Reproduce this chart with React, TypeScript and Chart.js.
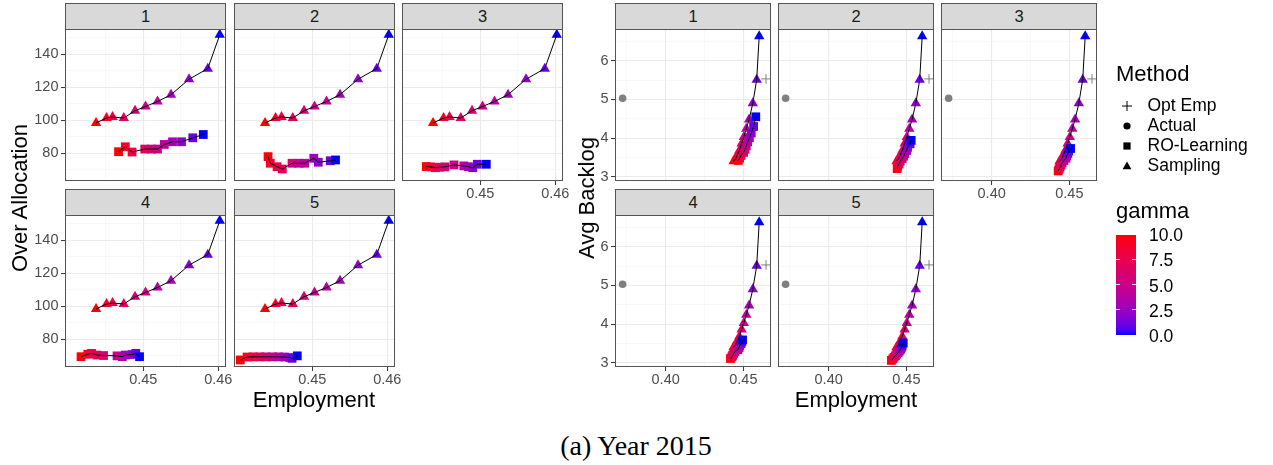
import React, { useEffect, useRef } from "react";
import { Chart, registerables } from "chart.js";

Chart.register(...registerables);

// ---------------- data ----------------
const FACETS = ["1", "2", "3", "4", "5"];
// gamma for each point, in order of increasing employment
const GAMMA = [10, 9, 8, 7, 6, 5, 4, 3, 2, 1, 0];

// Sampling (identical in every facet)
const SAMPLING_EMP = [0.4437, 0.4451, 0.4459, 0.4474, 0.4489, 0.4503, 0.4519, 0.4537, 0.4561, 0.4586, 0.4602];
const SAMPLING_OVER = [98.4, 101.4, 102.0, 101.4, 105.8, 108.4, 111.4, 115.5, 124.9, 131.3, 151.8];
const SAMPLING_BACKLOG = [3.4, 3.47, 3.55, 3.68, 3.86, 4.03, 4.24, 4.48, 4.9, 5.51, 6.63];

// RO-Learning, per facet
const RO_EMP_1 = [0.4467, 0.4476, 0.4485, 0.4502, 0.4511, 0.4519, 0.4528, 0.4539, 0.4551, 0.4566, 0.458];
const RO_OVER_1 = [81.0, 84.0, 80.8, 82.6, 82.6, 82.6, 85.4, 87.0, 87.0, 89.4, 91.4];
const RO_BACKLOG_1 = [3.42, 3.48, 3.55, 3.63, 3.71, 3.8, 3.9, 4.01, 4.13, 4.3, 4.55];

const RO_EMP_2 = [0.4441, 0.4444, 0.4453, 0.446, 0.4473, 0.4482, 0.449, 0.4502, 0.4508, 0.4524, 0.4531];
const RO_OVER_2 = [78.0, 74.0, 71.9, 70.5, 74.0, 74.0, 74.0, 77.0, 74.6, 75.5, 76.0];
const RO_BACKLOG_2 = [3.21, 3.27, 3.33, 3.4, 3.47, 3.53, 3.6, 3.68, 3.76, 3.85, 3.94];

const RO_EMP_3 = [0.4428, 0.4434, 0.444, 0.4446, 0.4453, 0.4465, 0.4478, 0.4484, 0.449, 0.4496, 0.4508];
const RO_OVER_3 = [72.0, 71.8, 71.3, 71.6, 71.8, 73.0, 72.4, 71.9, 71.3, 73.4, 73.4];
const RO_BACKLOG_3 = [3.15, 3.2, 3.25, 3.3, 3.36, 3.42, 3.48, 3.54, 3.6, 3.66, 3.73];

const RO_EMP_4 = [0.4417, 0.4426, 0.4431, 0.4438, 0.4447, 0.4465, 0.4472, 0.4476, 0.4485, 0.449, 0.4495];
const RO_OVER_4 = [69.5, 71.0, 71.5, 70.5, 70.2, 70.0, 69.5, 70.5, 70.8, 71.5, 69.5];
const RO_BACKLOG_4 = [3.11, 3.15, 3.19, 3.24, 3.29, 3.34, 3.39, 3.44, 3.49, 3.54, 3.59];

const RO_EMP_5 = [0.4404, 0.4413, 0.4421, 0.443, 0.4438, 0.4447, 0.4455, 0.4463, 0.447, 0.4473, 0.448];
const RO_OVER_5 = [67.5, 69.3, 69.4, 69.4, 69.4, 69.4, 69.4, 69.3, 69.0, 68.5, 70.0];
const RO_BACKLOG_5 = [3.06, 3.1, 3.14, 3.18, 3.22, 3.26, 3.3, 3.35, 3.4, 3.45, 3.51];

const RO_EMP = [RO_EMP_1, RO_EMP_2, RO_EMP_3, RO_EMP_4, RO_EMP_5];
const RO_OVER = [RO_OVER_1, RO_OVER_2, RO_OVER_3, RO_OVER_4, RO_OVER_5];
const RO_BACKLOG = [RO_BACKLOG_1, RO_BACKLOG_2, RO_BACKLOG_3, RO_BACKLOG_4, RO_BACKLOG_5];

// Actual and Opt Emp (Avg Backlog facets)
const ACTUAL_EMP = [0.3723];
const ACTUAL_BACKLOG = [5.03];
const OPT_EMP = [0.4646];
const OPT_BACKLOG = [5.53];

// axis ticks ("" = minor grid line)
const OVER_X_TICKS = [0.445, 0.45, 0.455, 0.46];
const OVER_X_LABELS = ["", "0.45", "", "0.46"];
const OVER_Y_TICKS = [70, 80, 90, 100, 110, 120, 130, 140, 150];
const OVER_Y_LABELS = ["", "80", "", "100", "", "120", "", "140", ""];
const BACK_X_TICKS = [0.375, 0.4, 0.425, 0.45];
const BACK_X_LABELS = ["", "0.40", "", "0.45"];
const BACK_Y_TICKS = [3, 3.5, 4, 4.5, 5, 5.5, 6, 6.5];
const BACK_Y_LABELS = ["3", "", "4", "", "5", "", "6", ""];

const OVER_X_RANGE = [0.43956, 0.46103];
const OVER_Y_RANGE = [63.25, 155.3];
const BACK_X_RANGE = [0.3674, 0.4678];
const BACK_Y_RANGE = [2.89, 6.82];

const METHODS = ["Opt Emp", "Actual", "RO-Learning", "Sampling"];
const GAMMA_BREAKS = [10, 7.5, 5, 2.5, 0];
const GAMMA_LABELS = ["10.0", "7.5", "5.0", "2.5", "0.0"];
const GAMMA_MIN = 0;
const GAMMA_MAX = 10;

// ---------------- styling / layout ----------------
const SANS = '"Liberation Sans", Arial, Helvetica, sans-serif';
const SERIF = '"Liberation Serif", "Times New Roman", serif';
const OVER_COLS = [65, 234, 402];
const OVER_W = 161;
const BACK_COLS = [615, 778, 941];
const BACK_W = 156;
const ROW_PLOT_TOP = [29, 215];
const ROW_STRIP_TOP = [3, 189];
const PLOT_H = 152;
const PAD_L = 50;
const PAD_R = 24;
const PAD_T = 8;
const PAD_B = 30;
const Y_AXIS_W = 44;
const X_AXIS_H = 26;
const BORDER = "#555555";
const GREY_PT = "#7f7f7f";

Chart.defaults.font.family = SANS;

// colour scale: blue (low) -> red (high), interpolated in CIE Lab like ggplot2
function srgbToLab(rgb: number[]): number[] {
  const lin = (c: number) => {
    c /= 255;
    return c <= 0.04045 ? c / 12.92 : Math.pow((c + 0.055) / 1.055, 2.4);
  };
  const [R, G, B] = rgb.map(lin);
  const X = (0.4124564 * R + 0.3575761 * G + 0.1804375 * B) / 0.95047;
  const Y = 0.2126729 * R + 0.7151522 * G + 0.072175 * B;
  const Z = (0.0193339 * R + 0.119192 * G + 0.9503041 * B) / 1.08883;
  const f = (t: number) => (t > 216 / 24389 ? Math.cbrt(t) : ((24389 / 27) * t + 16) / 116);
  const fx = f(X), fy = f(Y), fz = f(Z);
  return [116 * fy - 16, 500 * (fx - fy), 200 * (fy - fz)];
}
function labToHex(lab: number[]): string {
  const [L, a, b] = lab;
  const fy = (L + 16) / 116;
  const fx = fy + a / 500;
  const fz = fy - b / 200;
  const finv = (t: number) => (t * t * t > 216 / 24389 ? t * t * t : (116 * t - 16) / (24389 / 27));
  const X = finv(fx) * 0.95047, Y = finv(fy), Z = finv(fz) * 1.08883;
  const r = 3.2404542 * X - 1.5371385 * Y - 0.4985314 * Z;
  const g = -0.969266 * X + 1.8760108 * Y + 0.041556 * Z;
  const bl = 0.0556434 * X - 0.2040259 * Y + 1.0572252 * Z;
  const enc = (c: number) => {
    c = c <= 0.0031308 ? 12.92 * c : 1.055 * Math.pow(c, 1 / 2.4) - 0.055;
    const v = Math.round(Math.max(0, Math.min(1, c)) * 255);
    return v.toString(16).padStart(2, "0");
  };
  return "#" + enc(r) + enc(g) + enc(bl);
}
const LOW_LAB = srgbToLab([0, 0, 255]);
const HIGH_LAB = srgbToLab([255, 0, 0]);
function gammaColor(g: number): string {
  const t = (g - GAMMA_MIN) / (GAMMA_MAX - GAMMA_MIN);
  return labToHex(LOW_LAB.map((v, i) => v + (HIGH_LAB[i] - v) * t));
}
const GAMMA_COLORS = GAMMA.map(gammaColor);

// ---------------- chart helpers ----------------
const zip = (xs: number[], ys: number[]) => xs.map((x, i) => ({ x, y: ys[i] }));

function pointsDS(xs: number[], ys: number[], style: string, radius: number, colors: string[] | string, order: number) {
  return {
    data: zip(xs, ys),
    showLine: false,
    pointStyle: style,
    pointRadius: radius,
    pointHoverRadius: radius,
    pointBackgroundColor: colors,
    pointBorderColor: colors,
    pointBorderWidth: style === "cross" ? 1 : 0,
    order,
    clip: 0,
  };
}
function lineDS(xs: number[], ys: number[], order: number) {
  return {
    data: zip(xs, ys),
    showLine: true,
    borderColor: "#000000",
    borderWidth: 1,
    pointRadius: 0,
    pointHoverRadius: 0,
    tension: 0,
    fill: false,
    order,
    clip: 0,
  };
}

function axisCfg(axis: "x" | "y", ticks: number[], labels: string[], show: boolean, range: number[]) {
  return {
    type: "linear",
    position: axis === "x" ? "bottom" : "left",
    min: range[0],
    max: range[1],
    afterBuildTicks: (s: any) => {
      s.ticks = ticks.map((v) => ({ value: v }));
    },
    afterFit: (s: any) => {
      if (axis === "x") s.height = show ? X_AXIS_H : 0;
      else s.width = show ? Y_AXIS_W : 0;
      s.paddingLeft = 0;
      s.paddingRight = 0;
      s.paddingTop = 0;
      s.paddingBottom = 0;
    },
    ticks: {
      display: show,
      autoSkip: false,
      maxRotation: 0,
      minRotation: 0,
      padding: axis === "x" ? 0.5 : 2.5,
      color: "#4d4d4d",
      font: { family: SANS, size: 14.5 },
      callback: (_v: any, i: number) => labels[i],
    },
    grid: {
      color: (c: any) => (labels[c.index] ? "#ebebeb" : "#f3f3f3"),
      lineWidth: (c: any) => (labels[c.index] ? 1.1 : 0.6),
      drawTicks: show,
      tickLength: 4,
      tickWidth: 1,
      tickColor: (c: any) => (labels[c.index] ? "#333333" : "rgba(0,0,0,0)"),
    },
    border: { display: false },
  };
}

const borderPlugin = {
  id: "panelBorder",
  afterDraw(chart: any) {
    const { ctx, chartArea: a } = chart;
    ctx.save();
    ctx.strokeStyle = BORDER;
    ctx.lineWidth = 1;
    ctx.strokeRect(a.left + 0.5, a.top + 0.5, a.right - a.left - 1, a.bottom - a.top - 1);
    ctx.restore();
  },
};

type PanelProps = {
  left: number;
  top: number;
  width: number;
  height: number;
  datasets: any[];
  xTicks: number[];
  xLabels: string[];
  yTicks: number[];
  yLabels: string[];
  xRange: number[];
  yRange: number[];
  showX: boolean;
  showY: boolean;
};

function Panel(p: PanelProps) {
  const ref = useRef<HTMLCanvasElement>(null);
  const cw = p.width + PAD_L + PAD_R;
  const ch = p.height + PAD_T + PAD_B;
  useEffect(() => {
    const padLeft = PAD_L - (p.showY ? Y_AXIS_W : 0);
    const padBottom = PAD_B - (p.showX ? X_AXIS_H : 0);
    const chart = new Chart(ref.current as HTMLCanvasElement, {
      type: "scatter",
      data: { datasets: p.datasets },
      options: {
        responsive: false,
        animation: false,
        devicePixelRatio: 1,
        events: [],
        layout: { padding: { left: padLeft, right: PAD_R, top: PAD_T, bottom: padBottom } },
        plugins: { legend: { display: false }, tooltip: { enabled: false }, title: { display: false } },
        scales: {
          x: axisCfg("x", p.xTicks, p.xLabels, p.showX, p.xRange),
          y: axisCfg("y", p.yTicks, p.yLabels, p.showY, p.yRange),
        },
      } as any,
      plugins: [borderPlugin],
    });
    return () => chart.destroy();
  }, []);
  return (
    <canvas
      ref={ref}
      width={cw}
      height={ch}
      style={{ position: "absolute", left: p.left - PAD_L, top: p.top - PAD_T, width: cw, height: ch }}
    />
  );
}

function Strip({ left, top, width, height, label }: { left: number; top: number; width: number; height: number; label: string }) {
  return (
    <div
      style={{
        position: "absolute",
        left,
        top,
        width,
        height,
        boxSizing: "border-box",
        border: `1px solid ${BORDER}`,
        background: "#d9d9d9",
        color: "#1a1a1a",
        fontFamily: SANS,
        fontSize: 16.5,
        lineHeight: `${height - 2}px`,
        textAlign: "center",
      }}
    >
      {label}
    </div>
  );
}

function facetPos(i: number) {
  return { row: i < 3 ? 0 : 1, col: i % 3 };
}

function TextBox({ x, y, children, size, align = "center", rotate = false, family = SANS, color = "#000" }: any) {
  // (x, y) = centre of the text box (or left edge for align=left)
  const style: any = {
    position: "absolute",
    fontFamily: family,
    fontSize: size,
    lineHeight: 1,
    color,
    whiteSpace: "nowrap",
  };
  if (rotate) {
    style.left = x;
    style.top = y;
    style.transform = "translate(-50%, -50%) rotate(-90deg)";
  } else if (align === "left") {
    style.left = x;
    style.top = y - size / 2;
  } else {
    style.left = x;
    style.top = y - size / 2;
    style.transform = "translateX(-50%)";
  }
  return <div style={style}>{children}</div>;
}

function LegendSymbol({ kind, cx, cy }: { kind: string; cx: number; cy: number }) {
  const s = 14;
  let shape: any = null;
  const c = s / 2;
  if (kind === "Opt Emp") {
    shape = (
      <g stroke="#000" strokeWidth={1}>
        <line x1={c - 5} y1={c} x2={c + 5} y2={c} />
        <line x1={c} y1={c - 5} x2={c} y2={c + 5} />
      </g>
    );
  } else if (kind === "Actual") {
    shape = <circle cx={c} cy={c} r={3.6} fill="#000" />;
  } else if (kind === "RO-Learning") {
    shape = <rect x={c - 3.6} y={c - 3.6} width={7.2} height={7.2} fill="#000" />;
  } else {
    shape = <polygon points={`${c},${c - 4.6} ${c + 4.4},${c + 3.2} ${c - 4.4},${c + 3.2}`} fill="#000" />;
  }
  return (
    <svg width={s} height={s} style={{ position: "absolute", left: cx - c, top: cy - c }}>
      {shape}
    </svg>
  );
}

export default function App() {
  const panels: any[] = [];
  const strips: any[] = [];

  FACETS.forEach((f, i) => {
    const { row, col } = facetPos(i);
    const showX = row === 1 || col === 2;
    const showY = col === 0;
    const colors = GAMMA_COLORS;

    // Over Allocation grid
    panels.push(
      <Panel
        key={"o" + i}
        left={OVER_COLS[col]}
        top={ROW_PLOT_TOP[row]}
        width={OVER_W}
        height={PLOT_H}
        xTicks={OVER_X_TICKS}
        xLabels={OVER_X_LABELS}
        yTicks={OVER_Y_TICKS}
        yLabels={OVER_Y_LABELS}
        xRange={OVER_X_RANGE}
        yRange={OVER_Y_RANGE}
        showX={showX}
        showY={showY}
        datasets={[
          pointsDS(SAMPLING_EMP, SAMPLING_OVER, "triangle", 6, colors, 3),
          pointsDS(RO_EMP[i], RO_OVER[i], "rect", 6.2, colors, 2),
          lineDS(RO_EMP[i], RO_OVER[i], 1),
          lineDS(SAMPLING_EMP, SAMPLING_OVER, 0),
        ]}
      />
    );
    strips.push(
      <Strip
        key={"os" + i}
        left={OVER_COLS[col]}
        top={ROW_STRIP_TOP[row]}
        width={OVER_W}
        height={ROW_PLOT_TOP[row] - ROW_STRIP_TOP[row] + 1}
        label={f}
      />
    );

    // Avg Backlog grid
    panels.push(
      <Panel
        key={"b" + i}
        left={BACK_COLS[col]}
        top={ROW_PLOT_TOP[row]}
        width={BACK_W}
        height={PLOT_H}
        xTicks={BACK_X_TICKS}
        xLabels={BACK_X_LABELS}
        yTicks={BACK_Y_TICKS}
        yLabels={BACK_Y_LABELS}
        xRange={BACK_X_RANGE}
        yRange={BACK_Y_RANGE}
        showX={showX}
        showY={showY}
        datasets={[
          pointsDS(ACTUAL_EMP, ACTUAL_BACKLOG, "circle", 3.8, GREY_PT, 5),
          pointsDS(OPT_EMP, OPT_BACKLOG, "cross", 4.8, GREY_PT, 4),
          pointsDS(SAMPLING_EMP, SAMPLING_BACKLOG, "triangle", 6, colors, 3),
          pointsDS(RO_EMP[i], RO_BACKLOG[i], "rect", 6.2, colors, 2),
          lineDS(RO_EMP[i], RO_BACKLOG[i], 1),
          lineDS(SAMPLING_EMP, SAMPLING_BACKLOG, 0),
        ]}
      />
    );
    strips.push(
      <Strip
        key={"bs" + i}
        left={BACK_COLS[col]}
        top={ROW_STRIP_TOP[row]}
        width={BACK_W}
        height={ROW_PLOT_TOP[row] - ROW_STRIP_TOP[row] + 1}
        label={f}
      />
    );
  });

  const overCenterX = (OVER_COLS[0] + OVER_COLS[2] + OVER_W) / 2;
  const backCenterX = (BACK_COLS[0] + BACK_COLS[2] + BACK_W) / 2;
  const plotsCenterY = (ROW_PLOT_TOP[0] + ROW_PLOT_TOP[1] + PLOT_H) / 2;

  // colour bar
  const BAR_TOP = 234.5;
  const BAR_H = 100.5;
  const BAR_LEFT = 1116;
  const BAR_W = 20;
  const stops: string[] = [];
  for (let k = 0; k <= 20; k++) {
    const g = GAMMA_MAX - (k / 20) * (GAMMA_MAX - GAMMA_MIN);
    stops.push(`${gammaColor(g)} ${(k / 20) * 100}%`);
  }
  const barY = (g: number) => BAR_TOP + ((GAMMA_MAX - g) / (GAMMA_MAX - GAMMA_MIN)) * BAR_H;

  return (
    <div
      style={{
        position: "absolute",
        left: 0,
        top: 0,
        width: 1273,
        height: 465,
        background: "#ffffff",
        overflow: "hidden",
        fontFamily: SANS,
      }}
    >
      {strips}
      {panels}

      <TextBox x={20} y={plotsCenterY} size={22} rotate>
        Over Allocation
      </TextBox>
      <TextBox x={586.5} y={plotsCenterY} size={22} rotate>
        Avg Backlog
      </TextBox>
      <TextBox x={overCenterX} y={399.5} size={22}>
        Employment
      </TextBox>
      <TextBox x={backCenterX} y={399.5} size={22}>
        Employment
      </TextBox>

      {/* legend: Method */}
      <TextBox x={1116} y={73.5} size={22} align="left">
        Method
      </TextBox>
      {METHODS.map((m, k) => (
        <React.Fragment key={m}>
          <LegendSymbol kind={m} cx={1127} cy={105.5 + k * 20} />
          <TextBox x={1147.5} y={105.5 + k * 20} size={17.5} align="left">
            {m}
          </TextBox>
        </React.Fragment>
      ))}

      {/* legend: gamma */}
      <TextBox x={1116} y={211} size={22} align="left">
        gamma
      </TextBox>
      <div
        style={{
          position: "absolute",
          left: BAR_LEFT,
          top: BAR_TOP,
          width: BAR_W,
          height: BAR_H,
          background: `linear-gradient(to bottom, ${stops.join(", ")})`,
        }}
      />
      {GAMMA_BREAKS.map((g, k) => (
        <React.Fragment key={"gb" + k}>
          <div style={{ position: "absolute", left: BAR_LEFT, top: barY(g) - 0.5, width: 4, height: 1, background: "rgba(255,255,255,0.8)" }} />
          <div style={{ position: "absolute", left: BAR_LEFT + BAR_W - 4, top: barY(g) - 0.5, width: 4, height: 1, background: "rgba(255,255,255,0.8)" }} />
          <TextBox x={1149} y={barY(g) + 1.5} size={17.5} align="left">
            {GAMMA_LABELS[k]}
          </TextBox>
        </React.Fragment>
      ))}

      {/* caption */}
      <TextBox x={636} y={446} size={28} family={SERIF}>
        (a) Year 2015
      </TextBox>
    </div>
  );
}
